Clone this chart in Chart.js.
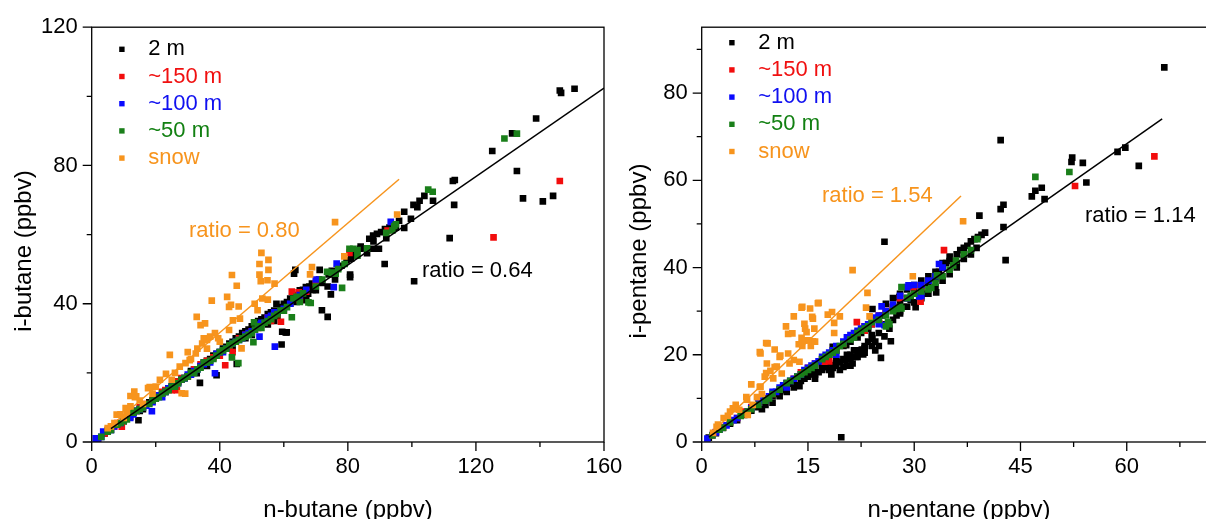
<!DOCTYPE html>
<html><head><meta charset="utf-8">
<script src="https://cdn.jsdelivr.net/npm/chart.js@4"></script>
<style>
html,body{margin:0;padding:0;background:#fff;overflow:hidden;width:1206px;height:519px;position:relative}
#c1{position:absolute;left:0;top:0}
#c2{position:absolute;left:620px;top:0}
</style></head><body>
<canvas id="c1" width="660" height="519"></canvas>
<canvas id="c2" width="600" height="519"></canvas>
<script>
// ---------- labels ----------
const seriesNames = ['2 m', '~150 m', '~100 m', '~50 m', 'snow'];
const seriesColors = ['#000000', '#f20d0d', '#0a0aff', '#1a7f1a', '#f7941d'];
const textColors = ['#000000', '#f01010', '#1010f0', '#128012', '#f7941d'];

// ---------- left panel: butane ----------
const butaneXTicks = [0, 40, 80, 120, 160];
const butaneXMinor = [20, 60, 100, 140];
const butaneYTicks = [0, 40, 80, 120];
const butaneYMinor = [20, 60, 100];
const butaneRatioAll = '0.64';
const butaneRatioSnow = '0.80';
const butaneFitAll = [{x:6,y:3.9},{x:160,y:102.4}];
const butaneFitSnow = [{x:8,y:6.3},{x:96,y:76}];

const butane2m = [[1.5,1],[4,2.5],[6,3.5],[8,5],[10,6],[12,7.2],[13,8.5],[14.6,6.3],[15,9],[16,9.5],[18,11.5],[19,12],[20,12.5],[21,13.5],[22,14],[23,14.5],[24,15.5],[25,16],[26,16.5],[27,17.5],[28,18],[29,18.5],[30,19],[31,20.5],[32,21],[32.8,19.9],[33.8,17.1],[34,22],[35,23],[36,23.5],[36,22],[37,24],[38,25],[39,19.3],[39,25.5],[40,26],[41,27],[42,27.5],[43,28.5],[44,29],[44,27],[45,30],[45.3,22.6],[46,30.5],[47,31.5],[48,32],[48,30],[49,32.5],[50,33.5],[50,31],[51,34],[52,35],[53,35.5],[54,36],[55,37],[55,34],[56,37.5],[57,38],[57,35],[57.7,40],[58,36.5],[59,39],[59.3,28.2],[59.5,31.9],[60.6,31.7],[60,40],[60.9,31.7],[61,40.5],[62,41.5],[62,40],[63,42],[63.2,48.7],[63.6,49.8],[64,42.5],[64,40.5],[65,43.9],[65.5,43],[66,44],[66.3,42],[66.9,44.8],[67,41],[67.6,42.9],[68,45],[68.8,45.8],[69,44],[70,43.9],[70.6,46.3],[71,47],[71.2,49.8],[72,46],[71.9,38.1],[73.7,36.2],[73.7,45],[74,48.5],[74.7,42.7],[75,49.5],[76,47],[77,50.5],[78,51],[79.6,52.5],[80.7,47.7],[80.7,48.4],[81,53],[82,54],[83.8,55.9],[84,56.5],[85,56],[86,54.6],[86.7,58.8],[87.9,55.9],[87.9,59.7],[88,58],[89.1,60.2],[89.7,55.9],[90.4,60.7],[91.5,51.5],[91.6,61.6],[92,59],[93,62],[95,62],[96,64],[97.6,61.9],[97.6,66.6],[99.7,64.6],[100.5,68.6],[100.7,46.5],[101.7,67.9],[102.4,69.8],[103.9,71.2],[106.6,69.8],[111.8,59],[112.8,75.5],[113.4,75.8],[113.2,68.6],[125.1,84.2],[131.3,89.3],[132.8,78.4],[134.7,70.5],[138.8,93.6],[140.9,69.6],[144.1,71.2],[146.2,101.7],[146.6,101],[150.8,102.2]];
const butane150 = [[2,1],[4,2.5],[5,3.5],[7,4.5],[8,5.5],[9.4,4.4],[10,6.5],[12,8],[14,9],[15,10],[17,11],[19,12],[20,13],[22,14.5],[23,15],[25,15],[26.6,15],[27,17.5],[28,18.5],[30,19],[32,21],[34,22.5],[36,23.5],[38,24.5],[40,25],[41.7,22.2],[43,27.5],[44,26],[46,30],[48,31],[50,32],[52,33],[55,36],[56,35],[58,37],[59.1,34.8],[60,38],[62.5,43.5],[64.6,43.3],[65,41],[67,43.5],[70,46],[80.5,54.7],[92.4,61.2],[125.5,59.2],[146.2,75.5]];
const butane100 = [[1.25,1.06],[2,1],[3,1.5],[3.6,3],[5,3.2],[6,3.5],[7,4.5],[9,5.5],[10,6.5],[12,7],[13,8],[14,9],[15,9.5],[16,10],[17,10.5],[18.8,8.9],[19,11.5],[20,13],[21,13.5],[22,13],[23,14.5],[24,15.5],[25,16],[26,16.5],[27,17],[28,18],[29,18.5],[30,19.5],[31,19.5],[32,20.5],[33,21],[34,22],[35,22.5],[36,23],[37,23],[38.5,19.9],[39,25.5],[40,26],[41,26],[42,27],[44,28.5],[45,29],[46,29.5],[47,30],[48,31],[49,31.5],[50,32],[52,34],[52.4,30.5],[53,34.5],[55,36],[56,36.5],[57,37.5],[57.2,27.6],[58,37.5],[60,38.5],[62,40],[64.6,41.8],[65,42.5],[67,44],[70,47],[75.6,44.8],[76.5,51.6],[93.4,63.7]];
const butane50 = [[3,1.5],[5,3],[6,3.5],[8,5],[9,5.5],[10,6],[11,6.5],[13,8.5],[14,9],[15,9.5],[16,10],[18,11],[19,12],[20,12.5],[21,13],[22,14],[23,14.5],[24,15],[25,16],[26,16],[27,17],[28,18],[29,18.5],[30,19],[31,20],[32,20],[33,21],[34,21.5],[35,23],[36,23],[37,23.5],[38,24],[39,25],[40,26],[41,26.5],[42,27],[43,28],[43.8,24.5],[44,28.5],[45,29],[45.8,22.8],[46,29.5],[47,30],[48,30.5],[49,31],[50,31.5],[50.5,28.9],[50.7,34.6],[51,32.5],[52,33.5],[53,33],[54,34.5],[55,35],[56,35.5],[57,36.5],[58,37],[59,38],[60,38],[61,39],[62.5,36.1],[63,41.5],[64,42],[65,40.5],[66,43],[67.7,40.4],[68.4,40.2],[70,45],[72,47],[73.5,49.2],[75,49],[76.2,48.7],[77,50],[78.2,44.6],[79,51.5],[80.5,55.9],[81.7,55.9],[83,53.9],[83,55.5],[86,56],[92,60.5],[93.9,61.2],[94.5,62.5],[95,63],[105.1,73],[106.5,72.4],[128.9,87.8],[132.8,89.2]];
const butaneSnow = [[5,4],[6,4.5],[7.1,5.5],[7.8,7.9],[9,8],[10,7],[10.6,9.8],[11,8.5],[12.1,10.3],[12.1,13.3],[13.3,14.6],[13.5,13],[13.9,13.2],[15,12],[16,11],[17.6,15.6],[18.1,15.9],[19,14],[20,16],[21.3,18],[23.2,19.7],[24.4,25.2],[25,18],[26,20],[27.5,21.8],[28.1,14.1],[29.2,14],[29.3,22.8],[30,26],[30.6,23.7],[31,24],[32.5,25.6],[32.8,36.2],[33,27],[34,33.8],[34.5,28.5],[35,30],[35.4,34.3],[36,27],[36,29.5],[37,30.5],[37.5,40.9],[38.5,31.5],[39.5,30],[40,29],[42.3,42],[42.9,32.4],[42.9,39.1],[43.5,39.7],[43.8,48.3],[44.1,35.2],[45.3,45.2],[45.9,39.2],[46.3,35.7],[46.8,27.1],[50.9,40],[51.8,38.1],[52.4,48.4],[52.4,51.5],[52.8,46.5],[53,54.7],[53.3,41.5],[54.9,46.8],[55,41.2],[55.2,49.8],[55.2,52.7],[57.1,45.8],[68.2,48.5],[68.8,50.6],[76,63.6],[78.9,53.7],[95.4,65.8]];

// ---------- right panel: pentane ----------
const pentaneXTicks = [0, 15, 30, 45, 60];
const pentaneXMinor = [7.5, 22.5, 37.5, 52.5, 67.5];
const pentaneYTicks = [0, 20, 40, 60, 80];
const pentaneYMinor = [10, 30, 50, 70, 90];
const pentaneRatioAll = '1.14';
const pentaneRatioSnow = '1.54';
const pentaneFitAll = [{x:1,y:1.1},{x:65,y:74.1}];
const pentaneFitSnow = [{x:2,y:3.1},{x:36.6,y:56.4}];

const pentane2m = [[1,1],[2,2],[3,3.2],[4,4.2],[5,5],[6,6.2],[7,7.2],[8,8],[8.5,7.5],[9,9.5],[9,8.5],[10,10.5],[10,9],[10.5,11],[11,11.5],[11,10.5],[11.5,11.9],[12,12.5],[12,11.5],[12.4,13.4],[12.5,13.5],[13,14],[13,12.5],[13.5,13],[13.8,12.8],[14,15],[14,14],[14.5,14.5],[15,16],[15,15],[15.5,15.5],[15.7,16.8],[16,17],[16,15.5],[16,14.5],[16.5,16],[17,18],[17,16.5],[17,17],[17.5,19],[17.6,17.2],[18,18],[18,20],[18,16.5],[18.3,15.5],[18.5,17],[18.5,21.8],[18.7,17.6],[19,21],[19,19],[19,17.5],[19,18.5],[19.5,18.3],[19.5,16.5],[19.7,1.1],[20,22],[20,17.2],[20,19],[20.2,18.7],[20.4,22.2],[20.5,20],[20.5,17.5],[21,23],[21,17.5],[21,19],[21,20],[21.3,18],[21.5,21],[21.8,19.5],[22,24],[22,20.5],[22,19.5],[22,21],[22.5,25],[22.6,21.2],[22.8,20.1],[23,22],[23,20.5],[23,21.5],[23.5,26],[23.5,23],[24,27],[24,22],[24,24.5],[24.1,23.7],[24.1,30.5],[24.5,23],[24.5,21],[25,28],[25,22],[25,25],[25.3,19.3],[25.5,29],[25.8,24.2],[25.8,45.9],[26,30],[26,27],[26,31.7],[26.5,26],[26.7,23.1],[27,31],[27,28],[27,33],[27.5,29],[27.9,33.2],[28,32],[28,29.5],[28,30],[28,34],[28.5,31],[29,33],[29,31],[29,35],[29.5,32.5],[30,34.5],[30,32],[30,36],[30.2,30.9],[31,35],[31,33],[31,37],[31.5,34],[32,36.5],[32,34],[32,38],[33,37.5],[33,35.5],[33,39],[33.1,34.3],[33.5,39],[34,40],[34,37],[34,41],[34.5,41],[35,41.5],[35,38.5],[35,42.5],[36,43],[36,40],[36,41],[36.5,44],[37,44.5],[37,42],[37,43],[37.5,45],[38,46],[38,43],[38.5,46.5],[38.8,44.5],[39,47],[39.2,51.9],[39.5,47.5],[40,48],[42.2,53.4],[42.2,69.2],[42.6,54.4],[42.6,49.3],[42.9,41.7],[46.6,56.3],[47.1,57.6],[48,58.3],[48.4,55.7],[52.2,64.2],[52.3,65.2],[53.8,64],[54.3,59.5],[58.7,66.5],[59.8,67.5],[61.7,63.3],[65.3,85.9]];
const pentane150 = [[1.5,1.5],[2,2.3],[3,3.4],[4,4.6],[5,5.5],[6,7],[7,8],[8,9],[9,10],[10,11],[11,12],[12,13.5],[13,14.5],[14,16],[15,17],[16,18],[17,19],[17.3,18.4],[18,18.5],[19,21.5],[20,22.5],[21,24],[21.9,27.5],[22,25],[23,26.5],[23,25.5],[24,27],[25,29],[25.1,27.1],[26,30],[27,31],[28,33],[29.8,35.5],[30,35.7],[30.9,32.2],[31,35.5],[34.2,44],[52.7,58.7],[63.9,65.5]];
const pentane100 = [[0.8,0.8],[1.5,1.6],[2,2.2],[2.5,2.8],[3.5,3.8],[4.5,5],[5,5.5],[6,6.5],[6.5,7],[7,7.8],[8,9],[8.5,9.5],[9,9.5],[9.5,10.5],[10,11.5],[10.5,11.5],[11,12.5],[11.5,13],[12,12.5],[12,13.5],[12.5,14],[13,14.5],[13.5,15],[14,15.5],[14.5,16.5],[15,17],[15.5,17.5],[16,18],[16.5,18.5],[17,19.5],[17.5,20],[18,20.5],[18.5,21],[19,20],[19,22],[20,23],[20.5,24],[21,24.5],[21.5,25],[22,25.5],[22.5,26],[23,26.5],[23.5,27],[24,28],[24.5,28.5],[25,27],[25,29],[25.4,31.1],[25.8,26.8],[26,30],[27,31.5],[28,33.5],[29,35.5],[29,33],[29.2,35.9],[30,36],[30.7,33.4],[31,33.5],[31,36],[32,37],[33,38],[33.5,40.8],[34,40]];
const pentane50 = [[1.5,1.5],[2.5,2.8],[3,3.3],[4,4.5],[5.5,6],[6,6.5],[6.5,7],[7,7.5],[8,8.5],[9,9.5],[9.5,10],[10,11],[11,12],[12,13.5],[12.5,14],[13.5,15],[14,15.5],[14.5,16],[15,16.5],[15.5,17],[16,17.5],[17,19],[17.5,19.5],[18,20],[18.5,20.5],[19,21],[19.5,22],[20,22.5],[21,23.5],[21.5,24],[22,25],[22.5,25.5],[23,26],[23.5,26.5],[24,27.5],[25,28],[26,29],[26,26.5],[26.3,27.5],[26.5,27],[27,30],[27.5,30.5],[28,31],[28.2,35.5],[28.2,30.6],[29,33],[29.5,33.5],[30,34],[31,34.5],[32,35],[32.4,35.3],[33,36.5],[33.2,38.2],[34,38],[35,39.5],[35.5,40.5],[35.9,41.6],[37,43],[38,44],[38.9,46.5],[47.1,60.8],[51.9,61.9]];
const pentaneSnow = [[1.6,2.1],[2.1,3.5],[2.3,4],[3.1,5.5],[3.7,6],[4,7],[4.4,7.7],[4.5,7.5],[4.8,8.5],[5.3,7.4],[6.3,10.3],[6.4,9.7],[6.5,6.2],[7,13.2],[7.2,8.5],[7.8,10.3],[8.2,12.6],[8.2,20.6],[8.3,12.7],[8.3,20.3],[8.5,11],[8.9,15],[9.1,15.8],[9.1,22.7],[9.2,18],[9.3,22.6],[9.7,16.3],[10.1,14.6],[10.3,17.2],[10.3,21.2],[10.6,17.3],[11,19.5],[11.1,19.8],[11.3,15.7],[11.9,26.5],[12.2,20.3],[12.2,24.8],[12.4,18],[12.8,24.9],[13,18.8],[13,28.8],[13.7,22.4],[13.8,18.4],[14.1,23.9],[14.1,30.8],[14.2,22],[14.2,31],[14.5,23.3],[14.5,27.1],[14.6,26],[14.8,25.2],[15.1,23.3],[15.3,30.6],[15.4,22],[15.6,28.7],[15.7,23.1],[15.7,28.3],[15.9,26],[16,23],[16.4,31.8],[16.5,31.9],[17.8,29.2],[18.4,29.8],[18.7,25],[18.7,27.3],[19.5,28.8],[21.3,39.4],[23.2,30.8],[23.4,34.2],[23.7,28.8],[29.8,38],[36.9,50.6]];

// ---------- helpers ----------
const FONT = '"Liberation Sans", Arial, sans-serif';
const toXY = arr => arr.map(p => ({x: p[0], y: p[1]}));

const panelPlugin = {
  id: 'panel',
  afterDraw(chart) {
    const o = chart.options.plugins.panel;
    const ctx = chart.ctx;
    const a = chart.chartArea;
    const xs = chart.scales.x, ys = chart.scales.y;
    ctx.save();
    ctx.strokeStyle = '#000';
    ctx.lineWidth = 1.3;
    ctx.strokeRect(a.left, a.top, a.right - a.left, a.bottom - a.top);
    ctx.beginPath();
    o.xMajor.forEach(v => { const p = xs.getPixelForValue(v); ctx.moveTo(p, a.bottom); ctx.lineTo(p, a.bottom + 9); });
    o.xMinor.forEach(v => { const p = xs.getPixelForValue(v); ctx.moveTo(p, a.bottom); ctx.lineTo(p, a.bottom + 5); });
    o.yMajor.forEach(v => { const p = ys.getPixelForValue(v); ctx.moveTo(a.left, p); ctx.lineTo(a.left - 9, p); });
    o.yMinor.forEach(v => { const p = ys.getPixelForValue(v); ctx.moveTo(a.left, p); ctx.lineTo(a.left - 5, p); });
    ctx.stroke();
    ctx.font = '22px ' + FONT;
    ctx.textBaseline = 'middle';
    ctx.textAlign = 'left';
    seriesNames.forEach((n, i) => {
      const y = o.legendY + i * o.legendStep;
      ctx.fillStyle = seriesColors[i];
      ctx.fillRect(a.left + 27.5, y - 2.7, 5.4, 5.4);
      ctx.fillStyle = textColors[i];
      ctx.fillText(n, a.left + 56.5, y);
    });
    ctx.textBaseline = 'alphabetic';
    o.notes.forEach(t => {
      ctx.fillStyle = t.color;
      ctx.fillText('ratio = ' + t.text, t.x - chart.canvas.offsetLeft, t.y);
    });
    ctx.fillStyle = '#000';
    ctx.font = '24px ' + FONT;
    ctx.textAlign = 'center';
    ctx.fillText(o.xTitle, o.xTitleX - chart.canvas.offsetLeft, 517);
    ctx.translate(o.yTitleX - chart.canvas.offsetLeft, 251);
    ctx.rotate(-Math.PI / 2);
    ctx.fillText(o.yTitle, 0, 0);
    ctx.restore();
  }
};

function makePanel(id, cfg) {
  const ds = [
    {data: cfg.fitAll, showLine: true, borderColor: '#000', borderWidth: 1.5, pointRadius: 0, fill: false},
    {data: cfg.fitSnow, showLine: true, borderColor: '#f7941d', borderWidth: 1.5, pointRadius: 0, fill: false}
  ];
  [4, 3, 2, 1, 0].forEach(i => {
    ds.push({label: seriesNames[i], data: toXY(cfg.series[i]), pointStyle: 'rect', pointRadius: 4.7,
      backgroundColor: seriesColors[i], borderWidth: 0, showLine: false});
  });
  return new Chart(document.getElementById(id), {
    type: 'scatter',
    data: {datasets: ds},
    options: {
      responsive: false, animation: false, devicePixelRatio: 1,
      layout: {padding: {left: 0, top: 25.7, right: cfg.padRight, bottom: 0}},
      plugins: {
        legend: {display: false}, tooltip: {enabled: false},
        panel: {xMajor: cfg.xTicks, xMinor: cfg.xMinor, yMajor: cfg.yTicks, yMinor: cfg.yMinor,
          legendY: cfg.legendY, legendStep: 27.2, notes: cfg.notes,
          xTitle: cfg.xTitle, yTitle: cfg.yTitle, xTitleX: cfg.xTitleX, yTitleX: cfg.yTitleX}
      },
      scales: {
        x: {type: 'linear', min: cfg.xMin, max: cfg.xMax,
          afterFit: s => { s.height = 77; },
          afterBuildTicks: s => { s.ticks = cfg.xTicks.map(v => ({value: v})); },
          ticks: {font: {family: FONT, size: 22}, color: '#000', padding: 12, maxRotation: 0, autoSkip: false},
          grid: {drawOnChartArea: false, drawTicks: false}, border: {display: false}},
        y: {type: 'linear', min: cfg.yMin, max: cfg.yMax,
          afterFit: s => { s.width = cfg.yAxisW; },
          afterBuildTicks: s => { s.ticks = cfg.yTicks.map(v => ({value: v})); },
          ticks: {font: {family: FONT, size: 22}, color: '#000', padding: 14, autoSkip: false},
          grid: {drawOnChartArea: false, drawTicks: false}, border: {display: false}}
      }
    },
    plugins: [panelPlugin]
  });
}

makePanel('c1', {
  series: [butane2m, butane150, butane100, butane50, butaneSnow],
  fitAll: butaneFitAll, fitSnow: butaneFitSnow,
  xMin: 0, xMax: 160, yMin: 0, yMax: 120,
  xTicks: butaneXTicks, xMinor: butaneXMinor, yTicks: butaneYTicks, yMinor: butaneYMinor,
  yAxisW: 91.7, padRight: 660 - 604,
  legendY: 49.3,
  notes: [{text: butaneRatioSnow, color: '#f7941d', x: 189, y: 237}, {text: butaneRatioAll, color: '#000', x: 422, y: 277}],
  xTitle: 'n-butane (ppbv)', yTitle: 'i-butane (ppbv)', xTitleX: 348, yTitleX: 31
});
makePanel('c2', {
  series: [pentane2m, pentane150, pentane100, pentane50, pentaneSnow],
  fitAll: pentaneFitAll, fitSnow: pentaneFitSnow,
  xMin: 0, xMax: 72.5, yMin: 0, yMax: 95.1,
  xTicks: pentaneXTicks, xMinor: pentaneXMinor, yTicks: pentaneYTicks, yMinor: pentaneYMinor,
  yAxisW: 81.7, padRight: 3,
  legendY: 42.7,
  notes: [{text: pentaneRatioSnow, color: '#f7941d', x: 822, y: 202}, {text: pentaneRatioAll, color: '#000', x: 1085, y: 222}],
  xTitle: 'n-pentane (ppbv)', yTitle: 'i-pentane (ppbv)', xTitleX: 959, yTitleX: 646
});
</script>
</body></html>
